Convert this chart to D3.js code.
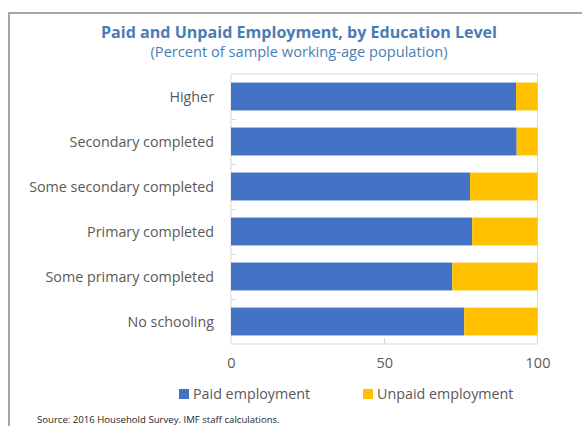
<!DOCTYPE html>
<html>
<head>
<meta charset="utf-8">
<script src="https://cdn.jsdelivr.net/npm/d3@7/dist/d3.min.js"></script>
<style>
  html, body { margin: 0; padding: 0; background: #fff; }
  svg { display: block; font-family: "Open Sans", "Noto Sans", sans-serif; }
</style>
</head>
<body>
<script>
// Education levels, top to bottom
const categories = [
  "Higher",
  "Secondary completed",
  "Some secondary completed",
  "Primary completed",
  "Some primary completed",
  "No schooling"
];
// Percent of sample working-age population
const paidValues   = [93.0, 93.2, 78.0, 78.7, 72.2, 76.1];
const unpaidValues = [7.0, 6.8, 22.0, 21.3, 27.8, 23.9];
const seriesNames = ["Paid employment", "Unpaid employment"];
const xTicks = [0, 50, 100];

const W = 582, H = 426;
const colors = ["#4472C4", "#FFC000"];
const textGray = "#595959";

const svg = d3.select("body").append("svg")
  .attr("width", W).attr("height", H);

// outer frame (top and left edges visible)
svg.append("path")
  .attr("d", `M9,${H} V13 H${W}`)
  .attr("fill", "none")
  .attr("stroke", "#a6a6a6")
  .attr("stroke-width", 2);

// fit a text element's width to a given length by adjusting font size
function fitWidth(sel, target) {
  const node = sel.node();
  const fs = parseFloat(sel.attr("font-size"));
  const w = node.getComputedTextLength();
  sel.attr("font-size", (fs * target / w).toFixed(2));
}

// title & subtitle
const title = svg.append("text")
  .attr("x", 299).attr("y", 37.5)
  .attr("text-anchor", "middle")
  .attr("font-size", 16).attr("font-weight", 700)
  .attr("fill", "#4A7DB5")
  .text("Paid and Unpaid Employment, by Education Level");
fitWidth(title, 396);

const subtitle = svg.append("text")
  .attr("x", 299).attr("y", 57)
  .attr("text-anchor", "middle")
  .attr("font-size", 14)
  .attr("fill", "#4A7DB5")
  .text("(Percent of sample working-age population)");
fitWidth(subtitle, 297);

// plot area
const plot = { left: 231, right: 537.5, top: 74, bottom: 344 };

const x = d3.scaleLinear().domain([0, 100]).range([plot.left, plot.right]);
const y = d3.scaleBand().domain(categories)
  .range([plot.top, plot.bottom])
  .paddingInner(0.38).paddingOuter(0.19);

const rows = categories.map((c, i) => ({ cat: c, paid: paidValues[i], unpaid: unpaidValues[i] }));
const stack = d3.stack().keys(["paid", "unpaid"])(rows);

// plot frame
svg.append("rect")
  .attr("x", plot.left).attr("y", plot.top)
  .attr("width", plot.right - plot.left).attr("height", plot.bottom - plot.top)
  .attr("fill", "none").attr("stroke", "#d9d9d9").attr("stroke-width", 1);

// bars
svg.append("g").selectAll("g").data(stack).join("g")
  .attr("fill", (d, i) => colors[i])
  .selectAll("rect").data(d => d).join("rect")
  .attr("x", d => x(d[0]))
  .attr("width", d => x(d[1]) - x(d[0]))
  .attr("y", d => y(d.data.cat))
  .attr("height", y.bandwidth());

// category axis: inner ticks at band boundaries
const step = y.step();
const boundaryY = c => Math.round(y(c) - y.paddingInner() * step / 2) + 0.5;
svg.append("g").selectAll("line")
  .data(categories.slice(1))
  .join("line")
  .attr("x1", plot.left).attr("x2", plot.left + 5)
  .attr("y1", boundaryY)
  .attr("y2", boundaryY)
  .attr("stroke", "#d9d9d9");

// category labels, sized so the longest spans the label column
const catLabels = svg.append("g").selectAll("text").data(categories).join("text")
  .attr("x", 214)
  .attr("y", c => y(c) + y.bandwidth() / 2 + 5)
  .attr("text-anchor", "end")
  .attr("font-size", 14)
  .attr("fill", textGray)
  .text(c => c);
{
  const longest = catLabels.filter(c => c === "Some secondary completed");
  fitWidth(longest, 185);
  catLabels.attr("font-size", longest.attr("font-size"));
}

// value axis
const xAxis = d3.axisBottom(x).tickValues(xTicks).tickSize(0).tickPadding(14);
const gx = svg.append("g")
  .attr("transform", `translate(0,${plot.bottom})`)
  .call(xAxis);
gx.select(".domain").remove();
gx.selectAll("text")
  .attr("font-size", 14.5)
  .attr("font-family", "'Open Sans', 'Noto Sans', sans-serif")
  .attr("fill", textGray);
svg.append("g").selectAll("line").data(xTicks.slice(1, -1)).join("line")
  .attr("x1", d => Math.round(x(d)) + 0.5).attr("x2", d => Math.round(x(d)) + 0.5)
  .attr("y1", plot.bottom - 6).attr("y2", plot.bottom)
  .attr("stroke", "#d9d9d9");

// legend
const legendX = [179, 363];
const lg = svg.append("g").selectAll("g").data(seriesNames).join("g")
  .attr("transform", (d, i) => `translate(${legendX[i]},389)`);
lg.append("rect").attr("width", 10).attr("height", 10)
  .attr("fill", (d, i) => colors[i]);
lg.append("text")
  .attr("x", 14).attr("y", 10)
  .attr("font-size", 14.3)
  .attr("fill", textGray)
  .text(d => d);

// source note
svg.append("text")
  .attr("x", 37).attr("y", 423)
  .attr("font-size", 9.6)
  .attr("fill", "#262626")
  .text("Source: 2016 Household Survey. IMF staff calculations.");
</script>
</body>
</html>
